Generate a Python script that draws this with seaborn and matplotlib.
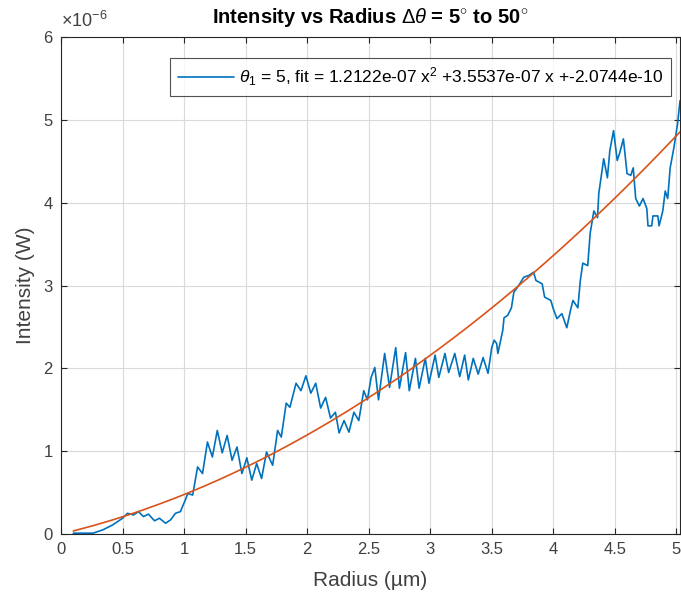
import numpy as np
import pandas as pd
import matplotlib
matplotlib.use("Agg")
import matplotlib.pyplot as plt
import seaborn as sns

# ---- data (intensity in units of 1e-6 W) ----
radius = [0.10, 0.26, 0.34, 0.42, 0.50, 0.54, 0.59, 0.63, 0.67, 0.71,
          0.76, 0.80, 0.85, 0.89, 0.93, 0.97, 1.01, 1.03, 1.07, 1.11,
          1.15, 1.19, 1.23, 1.27, 1.31, 1.35, 1.39, 1.43, 1.47, 1.51,
          1.55, 1.59, 1.63, 1.67, 1.72, 1.76, 1.79, 1.83, 1.86, 1.91,
          1.95, 1.99, 2.03, 2.07, 2.11, 2.15, 2.19, 2.23, 2.26, 2.30,
          2.34, 2.38, 2.42, 2.46, 2.49, 2.52, 2.55, 2.58, 2.63, 2.67,
          2.72, 2.75, 2.80, 2.83, 2.88, 2.91, 2.96, 2.99, 3.04, 3.07,
          3.12, 3.15, 3.20, 3.24, 3.28, 3.31, 3.35, 3.39, 3.43, 3.47,
          3.50, 3.52, 3.54, 3.55, 3.59, 3.60, 3.63, 3.66, 3.68, 3.72,
          3.76, 3.80, 3.84, 3.86, 3.91, 3.93, 3.98, 4.00, 4.03, 4.07,
          4.11, 4.14, 4.16, 4.20, 4.22, 4.24, 4.28, 4.30, 4.33, 4.36,
          4.37, 4.41, 4.44, 4.46, 4.49, 4.52, 4.54, 4.57, 4.60, 4.63,
          4.65, 4.67, 4.70, 4.73, 4.76, 4.77, 4.80, 4.81, 4.85, 4.86,
          4.89, 4.91, 4.93, 4.95, 4.98, 5.01, 5.03]
intensity = [0.01, 0.01, 0.05, 0.11, 0.19, 0.25, 0.23, 0.27, 0.21, 0.24,
             0.16, 0.19, 0.13, 0.17, 0.25, 0.27, 0.41, 0.49, 0.47, 0.81,
             0.73, 1.11, 0.93, 1.25, 0.98, 1.19, 0.89, 1.05, 0.73, 0.92,
             0.65, 0.85, 0.67, 0.99, 0.83, 1.25, 1.17, 1.58, 1.53, 1.82,
             1.73, 1.91, 1.70, 1.82, 1.52, 1.65, 1.40, 1.47, 1.22, 1.37,
             1.23, 1.47, 1.37, 1.73, 1.62, 1.89, 2.01, 1.62, 2.18, 1.77,
             2.25, 1.76, 2.19, 1.73, 2.12, 1.76, 2.12, 1.82, 2.16, 1.89,
             2.18, 1.95, 2.18, 1.90, 2.16, 1.86, 2.12, 1.93, 2.13, 1.94,
             2.25, 2.34, 2.30, 2.18, 2.46, 2.61, 2.64, 2.73, 2.92, 3.00,
             3.10, 3.12, 3.16, 3.06, 3.02, 2.86, 2.82, 2.72, 2.60, 2.66,
             2.49, 2.70, 2.82, 2.73, 3.06, 3.27, 3.24, 3.63, 3.90, 3.82,
             4.11, 4.53, 4.30, 4.63, 4.87, 4.51, 4.60, 4.77, 4.35, 4.33,
             4.42, 4.05, 3.96, 4.05, 3.93, 3.72, 3.72, 3.84, 3.84, 3.72,
             3.90, 4.14, 4.05, 4.42, 4.66, 4.95, 5.23]
fit_coeffs = [0.12122, 0.35537, -0.00020744]   # x^2, x, const (units 1e-6)
legend_label = (r"$\theta_1$ = 5, fit = 1.2122e-07 x$^2$ +3.5537e-07 x +-2.0744e-10")
title_text = r"Intensity vs Radius $\Delta\theta$ = 5$^{\circ}$ to 50$^{\circ}$"
x_ticks = [0, 0.5, 1, 1.5, 2, 2.5, 3, 3.5, 4, 4.5, 5]
x_tick_labels = ["0", "0.5", "1", "1.5", "2", "2.5", "3", "3.5", "4", "4.5", "5"]
y_ticks = [0, 1, 2, 3, 4, 5, 6]

df = pd.DataFrame({"r": radius, "I": intensity})
df["fit"] = np.polyval(fit_coeffs, df["r"])

sns.set_theme(style="white")
plt.rcParams["font.family"] = ["Liberation Sans", "DejaVu Sans"]
plt.rcParams["mathtext.fontset"] = "custom"
plt.rcParams["mathtext.rm"] = "Liberation Sans"
plt.rcParams["mathtext.it"] = "Liberation Sans:italic"

fig = plt.figure(figsize=(6.81, 6.0), dpi=100)
ax = fig.add_axes([61 / 681, 1 - 534 / 600, (680 - 61) / 681, (534 - 37) / 600])

blue = "#0072BD"
orange = "#D95319"
sns.lineplot(data=df, x="r", y="I", ax=ax, color=blue, linewidth=1.2,
             sort=False, estimator=None, label=legend_label)
sns.lineplot(data=df, x="r", y="fit", ax=ax, color=orange, linewidth=1.2,
             sort=False, estimator=None, label="_nolegend_")

ax.set_xlim(0, 5.03)
ax.set_ylim(0, 6)
ax.set_xticks(x_ticks)
ax.set_xticklabels(x_tick_labels)
ax.set_yticks(y_ticks)
ax.grid(True, color="#dadada", linewidth=0.8)
ax.set_axisbelow(True)
for s in ax.spines.values():
    s.set_color("#262626")
    s.set_linewidth(0.8)
    s.set_visible(True)
ax.tick_params(direction="in", length=4, width=0.8, color="#262626",
               top=True, right=True, bottom=True, left=True,
               labelsize=12, labelcolor="#404040", pad=6)

ax.set_xlabel("Radius (µm)", fontsize=15, color="#404040", labelpad=10)
ax.set_ylabel("Intensity (W)", fontsize=15, color="#404040", labelpad=6)
ax.set_title(title_text, fontsize=14.5, fontweight="bold", color="black", pad=10)
ax.text(0.0, 1.012, r"$\times$10$^{-6}$", transform=ax.transAxes,
        fontsize=13, color="#404040", ha="left", va="bottom")

leg = ax.legend(loc="upper right", bbox_to_anchor=(0.9855, 0.958), fontsize=12.5,
                frameon=True, fancybox=False, edgecolor="#262626",
                handlelength=3.2, borderpad=0.45, handletextpad=0.3,
                borderaxespad=0.0)
leg.get_frame().set_linewidth(0.8)
for t in leg.get_texts():
    t.set_color("black")

fig.savefig("out.png", dpi=100)
